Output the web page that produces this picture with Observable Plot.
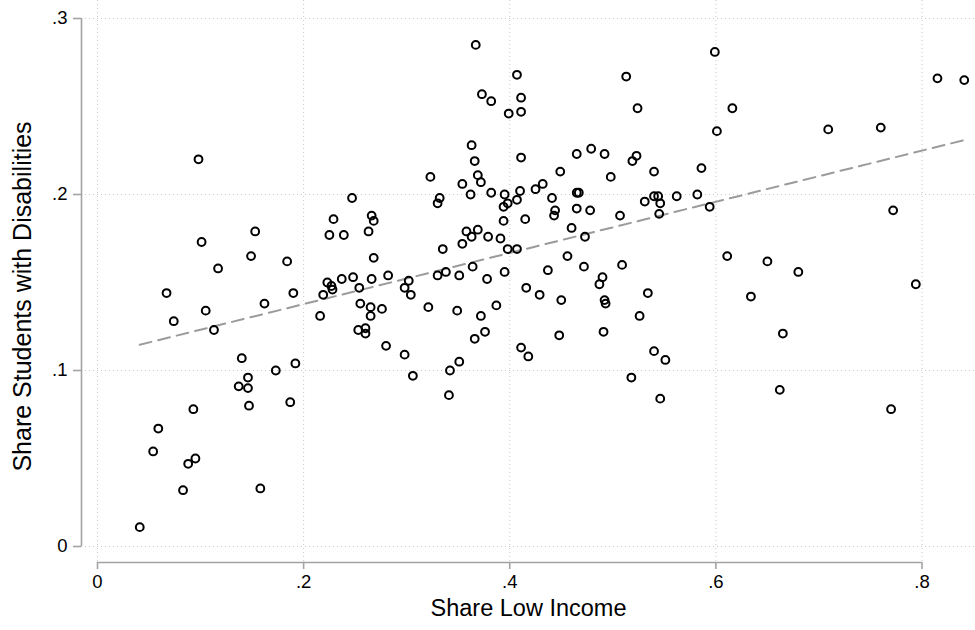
<!DOCTYPE html>
<html>
<head>
<meta charset="utf-8">
<script src="https://cdn.jsdelivr.net/npm/d3@7"></script>
<script src="https://cdn.jsdelivr.net/npm/@observablehq/plot@0.6"></script>
<style>
  html, body { margin: 0; padding: 0; background: #fff; }
</style>
</head>
<body>
<div id="chart"></div>
<script>
// Share of low-income students (x) and share of students with disabilities (y), one point per school
const lowIncome = [
  0.041, 0.054, 0.059, 0.067, 0.074, 0.083, 0.088, 0.093, 0.095, 0.098,
  0.101, 0.105, 0.113, 0.117, 0.137, 0.140, 0.146, 0.146, 0.147, 0.149,
  0.153, 0.158, 0.162, 0.173, 0.184, 0.187, 0.190, 0.192,
  0.216, 0.219, 0.223, 0.227, 0.228, 0.225, 0.229, 0.237, 0.239, 0.247,
  0.248, 0.253, 0.254, 0.255, 0.260, 0.260, 0.263, 0.265, 0.265, 0.266,
  0.266, 0.268, 0.268, 0.276, 0.280, 0.282, 0.298, 0.298, 0.302, 0.304,
  0.306, 0.321, 0.323, 0.330, 0.332, 0.330, 0.335, 0.338, 0.341, 0.342,
  0.349, 0.351, 0.351, 0.354, 0.354, 0.358, 0.362, 0.363, 0.363, 0.364,
  0.366, 0.366, 0.367, 0.369, 0.369, 0.372, 0.372, 0.373, 0.376, 0.378,
  0.379, 0.382, 0.382, 0.387, 0.391, 0.394, 0.394, 0.395, 0.395, 0.398,
  0.398, 0.399, 0.407, 0.407, 0.407, 0.410, 0.411, 0.411, 0.411, 0.411,
  0.415, 0.416, 0.418, 0.425, 0.429, 0.432, 0.437, 0.441, 0.443, 0.444,
  0.448, 0.449, 0.450, 0.456, 0.460, 0.465, 0.465, 0.465, 0.467, 0.472,
  0.473, 0.478, 0.479, 0.487, 0.490, 0.491, 0.492, 0.492, 0.493, 0.498,
  0.507, 0.509, 0.513, 0.518, 0.519, 0.523, 0.524, 0.526, 0.531, 0.534,
  0.540, 0.540, 0.540, 0.544, 0.545, 0.546, 0.546, 0.551, 0.562, 0.582,
  0.586, 0.594, 0.599, 0.601,
  0.611, 0.616, 0.634, 0.650, 0.662, 0.665, 0.680, 0.709, 0.760, 0.770,
  0.772, 0.794, 0.815, 0.841
];
const disabilities = [
  0.011, 0.054, 0.067, 0.144, 0.128, 0.032, 0.047, 0.078, 0.050, 0.220,
  0.173, 0.134, 0.123, 0.158, 0.091, 0.107, 0.096, 0.090, 0.080, 0.165,
  0.179, 0.033, 0.138, 0.100, 0.162, 0.082, 0.144, 0.104,
  0.131, 0.143, 0.150, 0.148, 0.146, 0.177, 0.186, 0.152, 0.177, 0.198,
  0.153, 0.123, 0.147, 0.138, 0.124, 0.121, 0.179, 0.136, 0.131, 0.152,
  0.188, 0.185, 0.164, 0.135, 0.114, 0.154, 0.109, 0.147, 0.151, 0.143,
  0.097, 0.136, 0.210, 0.195, 0.198, 0.154, 0.169, 0.156, 0.086, 0.100,
  0.134, 0.154, 0.105, 0.206, 0.172, 0.179, 0.200, 0.228, 0.176, 0.159,
  0.219, 0.118, 0.285, 0.180, 0.211, 0.207, 0.131, 0.257, 0.122, 0.152,
  0.176, 0.253, 0.201, 0.137, 0.175, 0.185, 0.193, 0.200, 0.156, 0.195,
  0.169, 0.246, 0.268, 0.197, 0.169, 0.202, 0.255, 0.247, 0.221, 0.113,
  0.186, 0.147, 0.108, 0.203, 0.143, 0.206, 0.157, 0.198, 0.188, 0.191,
  0.120, 0.213, 0.140, 0.165, 0.181, 0.223, 0.192, 0.201, 0.201, 0.159,
  0.176, 0.191, 0.226, 0.149, 0.153, 0.122, 0.223, 0.140, 0.138, 0.210,
  0.188, 0.160, 0.267, 0.096, 0.219, 0.222, 0.249, 0.131, 0.196, 0.144,
  0.111, 0.199, 0.213, 0.199, 0.189, 0.084, 0.195, 0.106, 0.199, 0.200,
  0.215, 0.193, 0.281, 0.236,
  0.165, 0.249, 0.142, 0.162, 0.089, 0.121, 0.156, 0.237, 0.238, 0.078,
  0.191, 0.149, 0.266, 0.265
];

const xTicks = [0, 0.2, 0.4, 0.6, 0.8];
const yTicks = [0, 0.1, 0.2, 0.3];
const xTitle = "Share Low Income";
const yTitle = "Share Students with Disabilities";

const schools = lowIncome.map((x, i) => ({x, y: disabilities[i]}));

// Stata-style labels without the leading zero: ".2", ".4" …
const noLeadingZero = d => String(d).replace(/^0\./, ".");

const axisGrey = "#a3a3a3";
const gridGrey = "#c8c8c8";

const chart = Plot.plot({
  width: 975,
  height: 630,
  marginLeft: 81,
  marginRight: 0,
  marginTop: 0,
  marginBottom: 68,
  style: {
    fontFamily: "'Liberation Sans', Arial, Helvetica, sans-serif",
    fontSize: "18px",
    background: "#fff",
    color: "#000",
    overflow: "visible"
  },
  x: {domain: [0, 0.8], range: [97, 921.5]},
  y: {domain: [0, 0.3], range: [546, 18]},
  marks: [
    // dotted grid
    Plot.ruleY(yTicks, {stroke: gridGrey, strokeWidth: 1, strokeDasharray: "1,3"}),
    Plot.ruleX(xTicks, {stroke: gridGrey, strokeWidth: 1, strokeDasharray: "1,3"}),
    // axis lines spanning the tick range only, set off from the data area
    Plot.ruleY([0], {x1: 0, x2: 0.8, dy: 16, stroke: axisGrey, strokeWidth: 1.6}),
    Plot.ruleX([0], {y1: 0, y2: 0.3, dx: -16, stroke: axisGrey, strokeWidth: 1.6}),
    Plot.axisX(xTicks, {
      tickSize: 7, tickPadding: 5, tickFormat: noLeadingZero,
      stroke: axisGrey, fill: "#000", strokeWidth: 1.6, fontSize: 18.5, label: null
    }),
    Plot.axisY(yTicks, {
      tickSize: 8, tickPadding: 6, tickFormat: noLeadingZero,
      stroke: axisGrey, fill: "#000", strokeWidth: 1.6, fontSize: 18.5, label: null
    }),
    // axis titles
    Plot.text([xTitle], {frameAnchor: "bottom", dy: 53, fontSize: 23.5, fill: "#000"}),
    Plot.text([yTitle], {
      frameAnchor: "left", textAnchor: "middle", rotate: -90,
      dx: -59, dy: 15, fontSize: 25, fill: "#000"
    }),
    // fitted OLS line
    Plot.linearRegressionY(schools, {
      x: "x", y: "y", ci: 0,
      stroke: "#9b9b9b", strokeWidth: 2, strokeDasharray: "12,7"
    }),
    // schools
    Plot.dot(schools, {x: "x", y: "y", r: 3.9, stroke: "#000", strokeWidth: 2, fill: "none"})
  ]
});

document.getElementById("chart").append(chart);
</script>
</body>
</html>
